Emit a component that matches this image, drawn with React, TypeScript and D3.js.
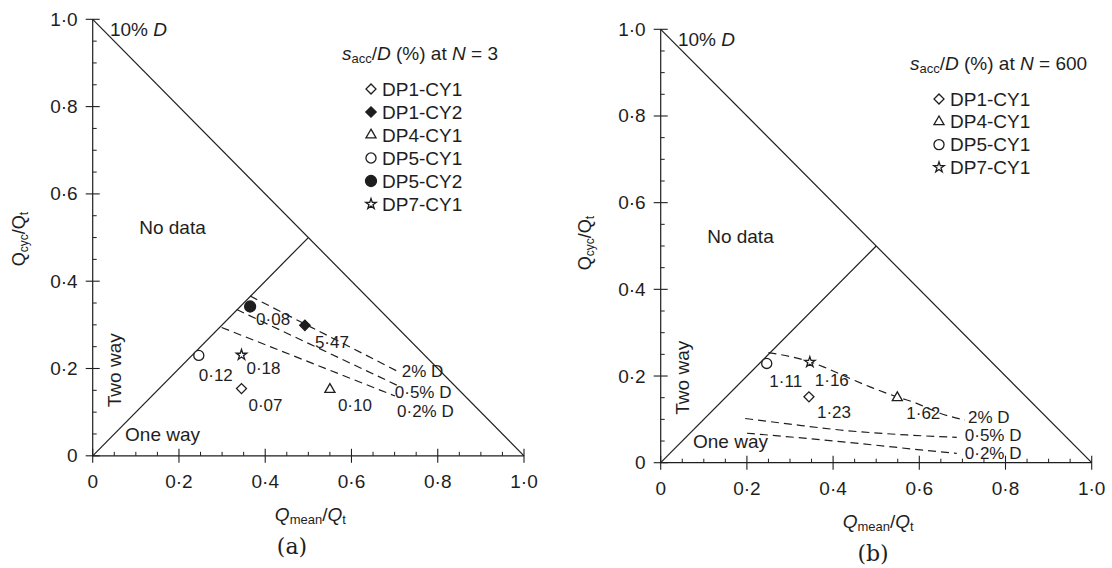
import React from "react"
import * as d3 from "d3"

// ---- data ----
const tickValues = [0, 0.2, 0.4, 0.6, 0.8, 1.0]
const tickLabels = ["0", "0·2", "0·4", "0·6", "0·8", "1·0"]

// panel (a): N = 3
const specimensA = ["DP1-CY1", "DP1-CY2", "DP4-CY1", "DP5-CY1", "DP5-CY2", "DP7-CY1"]
const qMeanA = [0.345, 0.492, 0.55, 0.246, 0.365, 0.345]
const qCycA = [0.154, 0.299, 0.152, 0.23, 0.342, 0.231]
const saccA = ["0·07", "5·47", "0·10", "0·12", "0·08", "0·18"]
const labelOffA = [[24, 17], [27, 17], [25, 16], [17, 20], [23, 13], [22, 14]]

// panel (b): N = 600
const specimensB = ["DP1-CY1", "DP4-CY1", "DP5-CY1", "DP7-CY1"]
const qMeanB = [0.344, 0.549, 0.246, 0.346]
const qCycB = [0.152, 0.15, 0.229, 0.232]
const saccB = ["1·23", "1·62", "1·11", "1·16"]
const labelOffB = [[25, 16], [26, 16], [19, 18], [22, 18]]

// contour lines of accumulated displacement
const contourNames = ["2% D", "0·5% D", "0·2% D"]
const contourXA = [[0.365, 0.712], [0.334, 0.705], [0.299, 0.701]]
const contourYA = [[0.366, 0.191], [0.335, 0.162], [0.294, 0.137]]
const contourLabelOffA = [[2, -1], [-2, 7], [2, 16]]

const contourXB = [
  [0.25, 0.3, 0.346, 0.385, 0.447, 0.493, 0.548, 0.594, 0.648, 0.706],
  [0.196, 0.3, 0.416, 0.571, 0.687],
  [0.2, 0.339, 0.493, 0.609, 0.687],
]
const contourYB = [
  [0.254, 0.245, 0.233, 0.218, 0.191, 0.172, 0.152, 0.137, 0.114, 0.0985],
  [0.102, 0.089, 0.0755, 0.064, 0.0586],
  [0.068, 0.056, 0.041, 0.029, 0.0217],
]
const contourLabelOffB = [[3, -3], [8, -2], [8, 0]]

const FONT = '"Liberation Sans", Arial, Helvetica, sans-serif'
const INK = "#1e1e1e"

const symbolFor: Record<string, { type: d3.SymbolType; size: number; fill: boolean; rot: number }> = {
  "DP1-CY1": { type: d3.symbolSquare, size: 50, fill: false, rot: 45 },
  "DP1-CY2": { type: d3.symbolSquare, size: 54, fill: true, rot: 45 },
  "DP4-CY1": { type: d3.symbolTriangle, size: 44, fill: false, rot: 0 },
  "DP5-CY1": { type: d3.symbolCircle, size: 80, fill: false, rot: 0 },
  "DP5-CY2": { type: d3.symbolCircle, size: 95, fill: true, rot: 0 },
  "DP7-CY1": { type: d3.symbolStar, size: 34, fill: false, rot: 0 },
}

function Marker({ name, x, y }: { name: string; x: number; y: number }) {
  const s = symbolFor[name]
  const d = d3.symbol().type(s.type).size(s.size)() || ""
  return (
    <path
      d={d}
      transform={`translate(${x},${y}) rotate(${s.rot})`}
      fill={s.fill ? INK : "white"}
      stroke={INK}
      strokeWidth={1.3}
    />
  )
}

type PanelProps = {
  xr: [number, number]
  yr: [number, number]
  names: string[]
  qm: number[]
  qc: number[]
  sacc: string[]
  labelOff: number[][]
  cx: number[][]
  cy: number[][]
  cLabelOff: number[][]
  curved: boolean
  nText: string
  legendX: number
  legendY: number
  legendGap: number
  yTitle: [number, number]
  tag: string
  tagX: number
}

function Panel(p: PanelProps) {
  const x = d3.scaleLinear().domain([0, 1]).range(p.xr)
  const y = d3.scaleLinear().domain([0, 1]).range(p.yr)
  // minor ticks every 0.05 between the labelled ones
  const minor = d3.range(1, 20).filter(k => k % 4 !== 0).map(k => k * 0.05)
  const line = d3.line<[number, number]>()
    .x(d => x(d[0]))
    .y(d => y(d[1]))
    .curve(p.curved ? d3.curveMonotoneX : d3.curveLinear)
  const y0 = y(0)
  const x0 = x(0)
  const mid = (p.xr[0] + p.xr[1]) / 2

  return (
    <g fontFamily={FONT} fill={INK}>
      {/* axes */}
      <line x1={x0} x2={x(1)} y1={y0} y2={y0} stroke={INK} strokeWidth={1.2} />
      <line x1={x0} x2={x0} y1={y0} y2={y(1)} stroke={INK} strokeWidth={1.2} />
      {tickValues.map((v, i) => (
        <g key={"t" + i}>
          <line x1={x(v)} x2={x(v)} y1={y0 - 7} y2={y0 + 7} stroke={INK} strokeWidth={1.1} />
          <line x1={x0 - 7} x2={x0 + 7} y1={y(v)} y2={y(v)} stroke={INK} strokeWidth={1.1} />
          <text x={x(v)} y={y0 + 26} textAnchor="middle" dominantBaseline="central" fontSize={19}>{tickLabels[i]}</text>
          <text x={x0 - 15} y={y(v)} textAnchor="end" dominantBaseline="central" fontSize={19}>{tickLabels[i]}</text>
        </g>
      ))}
      {minor.map((v, i) => (
        <g key={"m" + i}>
          <line x1={x(v)} x2={x(v)} y1={y0} y2={y0 - 4} stroke={INK} strokeWidth={1} />
          <line x1={x0} x2={x0 + 4} y1={y(v)} y2={y(v)} stroke={INK} strokeWidth={1} />
        </g>
      ))}

      {/* region boundaries */}
      <line x1={x(0)} y1={y(1)} x2={x(1)} y2={y(0)} stroke={INK} strokeWidth={1.2} />
      <line x1={x(0)} y1={y(0)} x2={x(0.5)} y2={y(0.5)} stroke={INK} strokeWidth={1.2} />

      {/* contours */}
      {p.cx.map((xs, i) => {
        const pts = xs.map((v, j) => [v, p.cy[i][j]] as [number, number])
        const end = pts[pts.length - 1]
        return (
          <g key={"c" + i}>
            <path d={line(pts) || ""} fill="none" stroke={INK} strokeWidth={1.2} strokeDasharray="8,5" />
            <text x={x(end[0]) + p.cLabelOff[i][0]} y={y(end[1]) + p.cLabelOff[i][1]} dominantBaseline="central" fontSize={17}>
              {contourNames[i]}
            </text>
          </g>
        )
      })}

      {/* data points */}
      {p.names.map((n, i) => (
        <g key={"p" + i}>
          <Marker name={n} x={x(p.qm[i])} y={y(p.qc[i])} />
          <text x={x(p.qm[i]) + p.labelOff[i][0]} y={y(p.qc[i]) + p.labelOff[i][1]} textAnchor="middle" dominantBaseline="central" fontSize={17}>
            {p.sacc[i]}
          </text>
        </g>
      ))}

      {/* region text */}
      <text x={x(0.04)} y={y(0.977)} dominantBaseline="central" fontSize={19}>
        10% <tspan fontStyle="italic">D</tspan>
      </text>
      <text x={x(0.185)} y={y(0.523)} textAnchor="middle" dominantBaseline="central" fontSize={19}>No data</text>
      <text transform={`translate(${x(0.05)},${y(0.196)}) rotate(-90)`} textAnchor="middle" dominantBaseline="central" fontSize={19}>Two way</text>
      <text x={x(0.075)} y={y(0.048)} dominantBaseline="central" fontSize={19}>One way</text>

      {/* axis titles */}
      <text x={mid + 2} y={y0 + 58} textAnchor="middle" dominantBaseline="central" fontSize={19}>
        <tspan fontStyle="italic">Q</tspan>
        <tspan fontSize={13} dy={5}>mean</tspan>
        <tspan dy={-5}>/</tspan>
        <tspan fontStyle="italic">Q</tspan>
        <tspan fontSize={13} dy={5}>t</tspan>
      </text>
      <text transform={`translate(${p.yTitle[0]},${p.yTitle[1]}) rotate(-90)`} textAnchor="middle" dominantBaseline="central" fontSize={18}>
        <tspan>Q</tspan>
        <tspan fontSize={12} dy={5}>cyc</tspan>
        <tspan dy={-5}>/Q</tspan>
        <tspan fontSize={12} dy={5}>t</tspan>
      </text>
      <text x={p.tagX} y={y0 + 91} textAnchor="middle" dominantBaseline="central" fontSize={22} fontFamily='"DejaVu Serif", "Liberation Serif", serif'>
        {p.tag}
      </text>

      {/* legend */}
      <text x={p.legendX} y={p.legendY} dominantBaseline="central" fontSize={19}>
        <tspan fontStyle="italic">s</tspan>
        <tspan fontSize={13} dy={5}>acc</tspan>
        <tspan dy={-5}>/</tspan>
        <tspan fontStyle="italic">D</tspan>
        <tspan> (%) at </tspan>
        <tspan fontStyle="italic">N</tspan>
        <tspan> = {p.nText}</tspan>
      </text>
      {p.names.map((n, i) => {
        const ly = p.legendY + 36 + i * p.legendGap
        return (
          <g key={"l" + i}>
            <Marker name={n} x={p.legendX + 29} y={ly} />
            <text x={p.legendX + 40} y={ly} dominantBaseline="central" fontSize={19}>{n}</text>
          </g>
        )
      })}
    </g>
  )
}

export default function App() {
  return (
    <svg width={1112} height={568} style={{ position: "absolute", left: 0, top: 0, background: "white" }}>
      <rect width={1112} height={568} fill="white" />
      <Panel
        xr={[92.7, 524]}
        yr={[455.8, 19.3]}
        names={specimensA}
        qm={qMeanA}
        qc={qCycA}
        sacc={saccA}
        labelOff={labelOffA}
        cx={contourXA}
        cy={contourYA}
        cLabelOff={contourLabelOffA}
        curved={false}
        nText="3"
        legendX={342}
        legendY={53}
        legendGap={23}
        yTitle={[19, 239]}
        tag="(a)"
        tagX={292}
      />
      <Panel
        xr={[660.7, 1091.7]}
        yr={[462.7, 29.3]}
        names={specimensB}
        qm={qMeanB}
        qc={qCycB}
        sacc={saccB}
        labelOff={labelOffB}
        cx={contourXB}
        cy={contourYB}
        cLabelOff={contourLabelOffB}
        curved={true}
        nText="600"
        legendX={910}
        legendY={63}
        legendGap={22.8}
        yTitle={[585, 243]}
        tag="(b)"
        tagX={873}
      />
    </svg>
  )
}
